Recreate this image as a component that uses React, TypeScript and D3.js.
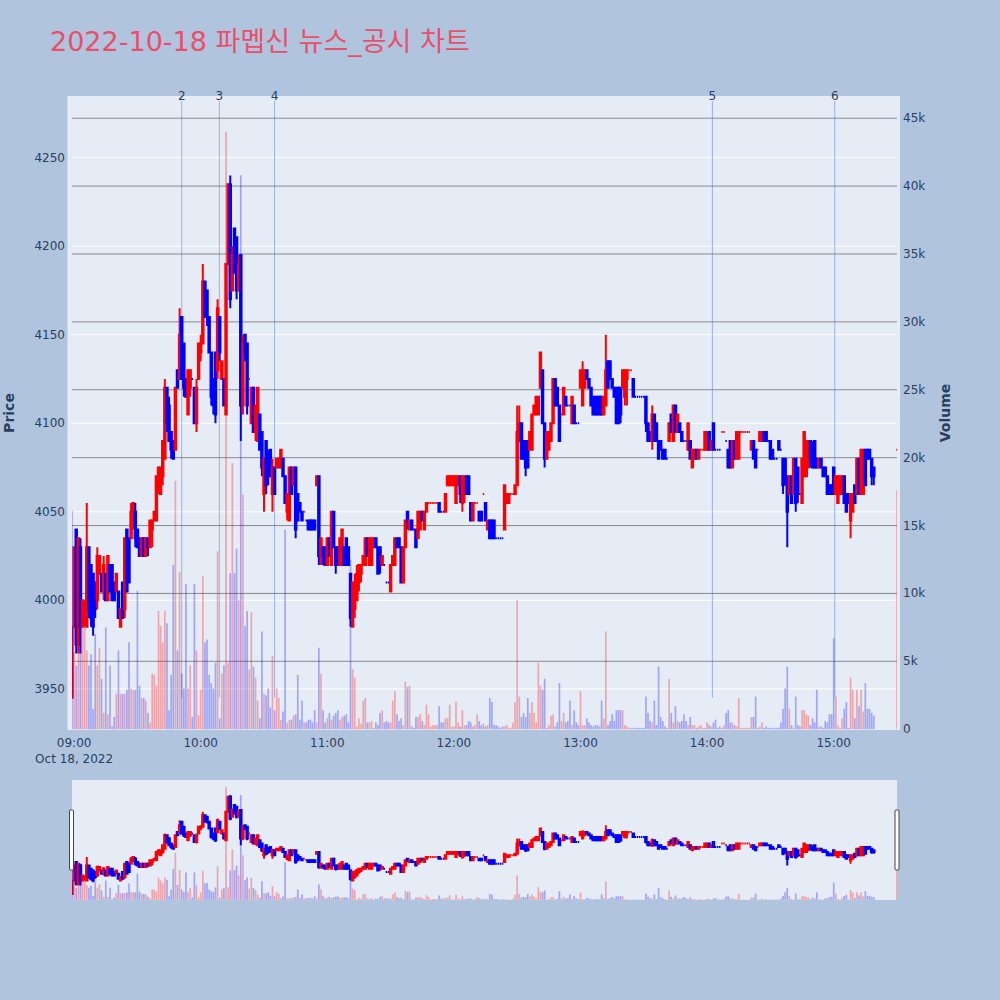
import React from "react";
import * as d3 from "d3";

// ---------------- DATA ----------------
// minute offsets from 08:59 (08:59 .. 15:19 continuous, then 15:30 closing auction)
const minuteOffsets = [...d3.range(0, 381), 391];

const opens = [
  3945,
  3985,4040,3975,4030,3985,3990,3985,4030,4020,4015,
  4010,4000,4015,4015,4005,4015,4000,4020,4020,4010,
  4005,4005,3985,4010,3995,4040,4035,4035,4045,4050,
  4040,4035,4025,4035,4025,4035,4030,4040,4045,4045,
  4065,4060,4070,4080,4120,4110,4095,4090,4085,4130,
  4125,4160,4145,4125,4105,4120,4125,4120,4100,4125,
  4140,4145,4180,4175,4160,4140,4125,4140,4130,4160,
  4125,4125,4105,4190,4235,4175,4210,4205,4175,4195,
  4110,4150,4145,4125,4100,4120,4095,4090,4105,4095,
  4060,4090,4080,4085,4060,4075,4075,4075,4075,4080,
  4070,4050,4045,4075,4065,4075,4060,4055,4050,4050,
  4045,4045,4045,4045,4045,4065,4070,4025,4030,4030,
  4020,4035,4020,4050,4030,4030,4020,4020,4030,4035,
  4030,4015,3985,3995,4000,4010,4015,4020,4020,4035,
  4020,4020,4030,4035,4030,4030,4020,4020,4010,4010,
  4005,4020,4020,4035,4035,4030,4010,4030,4050,4040,
  4045,4040,4040,4035,4040,4050,4040,4050,4055,4055,
  4055,4055,4055,4055,4050,4050,4050,4065,4065,4065,
  4065,4055,4065,4070,4055,4060,4070,4070,4055,4045,
  4055,4055,4050,4050,4060,4055,4040,4045,4045,4045,
  4035,4035,4035,4035,4040,4055,4055,4060,4060,4060,
  4065,4090,4100,4090,4090,4090,4085,4085,4105,4105,
  4105,4120,4130,4100,4080,4085,4090,4100,4125,4120,
  4110,4105,4105,4115,4110,4110,4100,4110,4100,4100,
  4120,4110,4120,4130,4125,4120,4115,4115,4115,4115,
  4115,4105,4110,4135,4135,4125,4120,4120,4120,4120,
  4120,4115,4125,4130,4130,4125,4115,4115,4115,4115,
  4115,4115,4100,4095,4090,4105,4100,4090,4090,4085,
  4085,4080,4090,4105,4090,4110,4095,4100,4095,4090,
  4090,4085,4090,4075,4080,4085,4080,4085,4085,4085,
  4085,4095,4085,4100,4085,4085,4085,4095,4095,4090,
  4085,4090,4075,4090,4080,4080,4095,4095,4095,4095,
  4095,4085,4090,4085,4085,4090,4090,4095,4095,4090,
  4090,4085,4080,4080,4090,4085,4080,4080,4070,4060,
  4070,4060,4080,4075,4060,4055,4070,4070,4075,4090,
  4085,4090,4080,4075,4080,4075,4075,4070,4065,4065,
  4075,4060,4055,4060,4060,4070,4060,4060,4045,4050,
  4065,4060,4080,4060,4060,4085,4085,4085,4080,4075,
  4085,
];

const highs = [
  3985,
  4030,4040,4035,4035,4000,4000,4055,4030,4020,4015,
  4010,4030,4025,4015,4025,4015,4025,4020,4020,4010,
  4015,4005,3995,4010,4035,4040,4035,4055,4055,4055,
  4040,4035,4035,4035,4035,4035,4045,4045,4050,4070,
  4075,4075,4090,4125,4120,4115,4095,4090,4120,4130,
  4165,4160,4145,4125,4130,4130,4125,4120,4125,4145,
  4150,4190,4180,4175,4160,4140,4125,4140,4170,4160,
  4135,4125,4190,4235,4240,4200,4210,4205,4195,4195,
  4150,4150,4145,4125,4120,4120,4110,4120,4105,4095,
  4080,4090,4085,4085,4080,4075,4080,4080,4085,4080,
  4070,4060,4075,4075,4075,4075,4060,4055,4050,4050,
  4045,4045,4045,4045,4045,4070,4070,4035,4030,4030,
  4035,4035,4050,4050,4030,4030,4035,4040,4030,4035,
  4030,4015,4010,4015,4020,4020,4020,4025,4035,4035,
  4035,4035,4035,4035,4030,4030,4025,4020,4010,4010,
  4020,4025,4035,4035,4035,4030,4030,4045,4050,4045,
  4045,4040,4040,4050,4050,4050,4050,4055,4055,4055,
  4055,4055,4055,4055,4050,4050,4060,4070,4070,4070,
  4070,4070,4070,4070,4070,4070,4070,4070,4055,4055,
  4055,4055,4050,4050,4060,4055,4045,4045,4045,4045,
  4035,4035,4035,4035,4065,4060,4060,4060,4060,4065,
  4110,4110,4100,4090,4090,4090,4095,4105,4110,4115,
  4115,4140,4130,4100,4095,4095,4100,4125,4125,4120,
  4110,4105,4120,4115,4110,4110,4115,4110,4100,4100,
  4130,4135,4130,4130,4125,4120,4115,4115,4115,4115,
  4115,4115,4150,4135,4135,4125,4120,4120,4120,4120,
  4130,4130,4130,4130,4130,4125,4115,4115,4115,4115,
  4115,4115,4100,4095,4110,4105,4100,4090,4090,4085,
  4085,4080,4100,4105,4110,4110,4105,4100,4095,4090,
  4090,4100,4090,4085,4085,4085,4085,4085,4085,4095,
  4095,4095,4090,4100,4085,4085,4085,4095,4095,4090,
  4085,4090,4090,4090,4095,4095,4095,4095,4095,4095,
  4095,4090,4090,4085,4085,4095,4095,4095,4095,4090,
  4090,4085,4080,4080,4090,4085,4080,4080,4070,4070,
  4070,4080,4080,4075,4060,4080,4095,4090,4090,4090,
  4090,4090,4080,4080,4080,4075,4075,4070,4065,4065,
  4075,4070,4070,4070,4070,4070,4060,4060,4060,4060,
  4065,4080,4080,4085,4085,4085,4085,4085,4080,4075,
  4085,
];

const lows = [
  3945,
  3985,3970,3970,3970,3985,3985,3985,3990,3985,3980,
  3990,3995,4015,4005,4000,4000,4000,4005,4000,4000,
  4005,3990,3985,3990,3990,4005,4010,4035,4040,4030,
  4030,4025,4025,4025,4025,4025,4030,4030,4045,4045,
  4060,4060,4065,4080,4095,4090,4080,4080,4085,4120,
  4125,4125,4115,4115,4105,4115,4125,4100,4095,4125,
  4135,4145,4160,4155,4140,4110,4105,4100,4125,4135,
  4125,4110,4105,4190,4165,4175,4185,4170,4175,4090,
  4105,4135,4105,4125,4100,4095,4090,4090,4085,4070,
  4050,4060,4065,4070,4050,4060,4075,4075,4075,4070,
  4055,4045,4045,4060,4065,4035,4045,4050,4045,4050,
  4045,4040,4040,4040,4040,4065,4020,4020,4020,4020,
  4020,4025,4020,4030,4015,4020,4020,4020,4020,4020,
  4020,3985,3985,3990,4000,4005,4010,4020,4020,4025,
  4020,4020,4030,4030,4015,4015,4020,4020,4010,4010,
  4005,4020,4020,4030,4030,4010,4010,4030,4040,4040,
  4040,4040,4030,4035,4040,4045,4040,4050,4055,4055,
  4055,4055,4055,4050,4050,4050,4050,4065,4065,4065,
  4065,4055,4065,4055,4050,4055,4060,4060,4045,4045,
  4055,4055,4045,4045,4060,4045,4040,4035,4035,4035,
  4035,4035,4035,4035,4040,4055,4055,4060,4060,4060,
  4065,4090,4080,4080,4070,4075,4085,4085,4105,4105,
  4105,4120,4100,4075,4080,4085,4090,4100,4110,4110,
  4090,4105,4105,4110,4110,4110,4100,4100,4100,4100,
  4120,4110,4120,4125,4120,4110,4105,4105,4105,4105,
  4105,4105,4110,4120,4125,4120,4115,4100,4100,4100,
  4120,4110,4110,4130,4130,4115,4115,4115,4115,4115,
  4115,4095,4090,4090,4085,4090,4090,4080,4085,4080,
  4080,4080,4090,4095,4090,4095,4095,4095,4090,4090,
  4090,4085,4080,4075,4080,4080,4080,4085,4085,4085,
  4085,4085,4085,4085,4085,4085,4085,4095,4095,4090,
  4075,4075,4075,4080,4080,4080,4095,4095,4095,4095,
  4095,4085,4080,4075,4085,4090,4090,4090,4090,4090,
  4080,4080,4080,4080,4085,4085,4060,4065,4030,4060,
  4055,4060,4050,4055,4060,4055,4070,4070,4075,4075,
  4075,4075,4075,4075,4075,4070,4070,4060,4060,4060,
  4060,4060,4055,4060,4060,4055,4050,4055,4035,4050,
  4055,4060,4060,4060,4060,4065,4080,4080,4065,4065,
  4085,
];

const closes = [
  3985,
  4030,3975,4035,3985,4000,3995,4030,3995,3990,3985,
  3995,4025,4025,4005,4020,4000,4025,4005,4000,4000,
  4015,3990,3995,3990,4035,4005,4010,4050,4055,4035,
  4030,4025,4035,4025,4035,4030,4045,4045,4050,4070,
  4075,4075,4090,4120,4100,4090,4085,4080,4120,4120,
  4150,4125,4120,4115,4130,4130,4125,4100,4120,4145,
  4145,4180,4160,4160,4140,4115,4110,4105,4165,4140,
  4135,4110,4190,4235,4170,4195,4185,4175,4190,4110,
  4145,4140,4110,4125,4120,4095,4110,4120,4085,4075,
  4080,4065,4070,4070,4075,4060,4080,4080,4085,4070,
  4055,4060,4075,4060,4075,4040,4045,4050,4045,4050,
  4045,4040,4040,4040,4040,4070,4025,4035,4025,4020,
  4035,4025,4050,4030,4020,4020,4035,4040,4020,4020,
  4020,3990,4010,4010,4015,4020,4020,4025,4035,4025,
  4035,4035,4035,4030,4015,4020,4025,4020,4010,4010,
  4020,4025,4035,4030,4030,4010,4030,4045,4045,4045,
  4040,4040,4030,4050,4050,4045,4050,4055,4055,4055,
  4055,4055,4055,4050,4050,4050,4060,4070,4070,4070,
  4070,4070,4070,4060,4070,4070,4060,4060,4045,4055,
  4055,4055,4045,4045,4060,4045,4045,4035,4035,4035,
  4035,4035,4035,4035,4065,4060,4060,4060,4060,4065,
  4095,4100,4080,4080,4075,4075,4095,4105,4110,4115,
  4115,4140,4100,4080,4095,4095,4100,4125,4110,4110,
  4090,4105,4120,4110,4110,4110,4115,4100,4100,4100,
  4130,4125,4130,4125,4120,4110,4105,4105,4105,4105,
  4105,4115,4130,4120,4125,4120,4115,4100,4100,4105,
  4130,4130,4130,4130,4130,4115,4115,4115,4115,4115,
  4115,4100,4090,4090,4105,4090,4090,4080,4085,4080,
  4080,4080,4100,4095,4110,4095,4105,4095,4090,4090,
  4090,4100,4080,4085,4085,4080,4085,4085,4085,4095,
  4095,4085,4090,4085,4085,4085,4085,4095,4095,4090,
  4075,4075,4090,4080,4095,4095,4095,4095,4095,4095,
  4095,4090,4080,4075,4085,4095,4095,4090,4090,4090,
  4080,4080,4080,4080,4085,4085,4065,4070,4050,4070,
  4055,4080,4055,4060,4060,4080,4095,4090,4090,4080,
  4075,4075,4075,4080,4075,4070,4070,4060,4060,4060,
  4060,4070,4070,4070,4070,4055,4050,4055,4060,4060,
  4055,4080,4060,4085,4085,4065,4080,4080,4070,4070,
  4085,
];

const volumes = [
  16100,
  5700,4700,6100,9500,9500,7500,5800,4700,5500,1500,
  7000,4700,6000,3700,1200,7500,1100,4700,200,900,
  2600,5800,2600,2600,2600,2900,6400,3000,2900,2900,
  10200,3200,2300,2300,2100,1200,500,4100,4000,3200,
  8700,7600,6400,8700,7800,1400,4000,12100,18300,5800,
  11600,4100,3000,10700,3000,4700,900,10700,5800,1000,
  2900,11300,6400,6600,4000,3400,3000,4900,13100,800,
  4100,4700,44000,4900,11500,19600,11500,13300,9500,40800,
  17300,7600,8700,4400,8600,4600,3800,2100,800,7200,
  2600,2500,3000,1600,5400,1400,3000,2300,700,1300,
  14700,500,700,700,1000,1100,4000,700,2100,500,
  500,700,700,500,1400,500,6000,4100,1400,500,
  800,1200,700,1000,1200,1400,700,900,1000,1100,
  500,12500,4400,3800,200,800,400,2100,2300,500,
  500,600,100,500,300,1200,1400,500,600,500,
  500,2100,2800,1100,600,800,300,3500,3100,3200,
  200,100,900,900,1100,600,300,1800,1100,200,
  300,300,300,1700,500,500,800,800,1800,200,
  200,2000,500,200,1400,300,300,600,500,200,
  300,1100,600,300,400,200,300,2300,2000,300,
  300,200,100,200,200,300,100,100,500,2000,
  9500,2400,900,1200,900,2300,1200,2000,1200,500,
  4900,3200,2900,3700,100,300,1000,1100,200,500,
  3400,600,1200,500,600,2100,300,1400,500,300,
  2800,300,300,800,500,300,200,300,300,200,
  2100,800,7200,300,600,1100,600,1400,1400,1400,
  1400,300,200,100,100,100,100,100,100,100,
  100,2400,1200,600,500,2100,300,4600,900,600,
  200,100,3700,1200,500,1700,600,500,600,1100,
  600,300,900,300,300,100,200,300,100,100,
  500,300,200,500,700,100,200,100,300,1200,
  1400,500,500,300,200,2300,100,100,100,100,
  100,900,900,2400,100,200,500,100,200,100,
  100,100,100,100,100,500,1500,3000,4600,1500,
  300,100,2400,300,200,1400,1400,1100,1000,300,
  800,500,2900,200,200,100,600,500,1100,1100,
  6700,2400,300,100,800,1500,2000,100,3800,2900,
  800,2900,1700,2900,1300,3400,1500,1500,1200,1000,
  17600,
];

const priceTicks = [3950, 4000, 4050, 4100, 4150, 4200, 4250];
const volumeTicks = [0, 5000, 10000, 15000, 20000, 25000, 30000, 35000, 40000, 45000];
const volumeTickLabels = ["0", "5k", "10k", "15k", "20k", "25k", "30k", "35k", "40k", "45k"];
const hourTicks = ["09:00", "10:00", "11:00", "12:00", "13:00", "14:00", "15:00"];
const eventLabels = ["2", "3", "4", "5", "6"];
const eventTimes = ["09:51:00", "10:08:50", "10:35:00", "14:02:30", "15:00:30"];

const TITLE = "2022-10-18 파멥신 뉴스_공시 차트";

// ---------------- STYLE ----------------
const UP = "#FF0000";
const DOWN = "#0000FF";
const FONT = "'DejaVu Sans', Verdana, sans-serif";
const AXIS_COLOR = "#2a3f5f";

function parseTime(s: string) {
  const [h, m, sec] = s.split(":").map(Number);
  return new Date(2022, 9, 18, h, m, sec || 0);
}

export default function App() {
  const base = new Date(2022, 9, 18, 8, 59, 0);
  const times = minuteOffsets.map((m) => new Date(base.getTime() + m * 60000));

  const x = d3.scaleTime().domain([times[0], times[times.length - 1]]).range([72, 897]);
  const yP = d3.scaleLinear().domain([3950, 4250]).range([688.8, 157.7]);
  const yV = d3.scaleLinear().domain([0, 45000]).range([729.2, 118.2]);
  const step = x(new Date(base.getTime() + 60000)) - x(base);

  // slider scales (same ranges, compressed)
  const sP = d3.scaleLinear().domain([yP.invert(730), yP.invert(96)]).range([900, 780]);
  const sV = d3.scaleLinear().domain([yV.invert(730), yV.invert(96)]).range([900, 780]);

  // plotly-like direction logic
  const inc: boolean[] = [];
  let prevC: number | null = null;
  let up = true;
  closes.forEach((c, i) => {
    const o = opens[i];
    if (c === o) {
      if (prevC !== null && c !== prevC) up = c > prevC;
    } else up = c > o;
    inc.push(up);
    prevC = c;
  });
  const volUp = inc.map((u, i) => (i === 0 ? false : u));

  const hw = step * 0.35;
  const candlePath = (i: number, ys: (v: number) => number) => {
    const cx = x(times[i]);
    const yo = ys(opens[i]);
    const yc = ys(closes[i]);
    const yh = ys(highs[i]);
    const yl = ys(lows[i]);
    const top = Math.min(yo, yc);
    const bot = Math.max(yo, yc);
    return `M${cx - hw},${top}H${cx + hw}V${bot}H${cx - hw}Z M${cx},${yh}V${top} M${cx},${bot}V${yl}`;
  };

  const bw = step * 0.8;
  const minLow = d3.min(lows) as number;

  const renderCandles = (ys: (v: number) => number) =>
    times.map((t, i) => (
      <path
        key={"c" + i}
        d={candlePath(i, ys)}
        fill={inc[i] ? UP : DOWN}
        stroke={inc[i] ? UP : DOWN}
        strokeWidth={2}
      />
    ));

  const renderVolumes = (ys: (v: number) => number) =>
    times.map((t, i) => (
      <rect
        key={"v" + i}
        x={x(t) - bw / 2}
        y={ys(volumes[i])}
        width={bw}
        height={Math.max(0, ys(0) - ys(volumes[i]))}
        fill={volUp[i] ? UP : DOWN}
        fillOpacity={0.3}
      />
    ));

  return (
    <svg
      width={1000}
      height={1000}
      style={{ position: "absolute", left: 0, top: 0, display: "block" }}
      fontFamily={FONT}
    >
      <defs>
        <clipPath id="mainClip">
          <rect x={72} y={96} width={825} height={634} />
        </clipPath>
        <clipPath id="sliderClip">
          <rect x={72} y={780} width={825} height={120} />
        </clipPath>
      </defs>
      <rect x={0} y={0} width={1000} height={1000} fill="#B0C4DE" />

      {/* title */}
      <text x={50} y={50.5} fontSize={27} fill="#EA4F6A" fontFamily="'DejaVu Sans', 'Noto Sans CJK KR', sans-serif">
        {TITLE}
      </text>

      {/* plot background */}
      <rect x={67.5} y={96} width={832.5} height={634} fill="#E5ECF6" />

      {/* price gridlines */}
      {priceTicks.map((p) => (
        <line key={"pg" + p} x1={72} x2={897} y1={yP(p)} y2={yP(p)} stroke="#ffffff" strokeWidth={1} />
      ))}
      {/* volume gridlines */}
      {volumeTicks.slice(1).map((v) => (
        <line key={"vg" + v} x1={72} x2={897} y1={yV(v)} y2={yV(v)} stroke="#8a8a8a" strokeWidth={1} />
      ))}

      {/* event lines */}
      {eventTimes.map((s, i) => {
        const ex = x(parseTime(s));
        return (
          <g key={"ev" + i}>
            <line x1={ex} x2={ex} y1={101} y2={yP(minLow)} stroke="royalblue" strokeOpacity={0.45} strokeWidth={1} />
            <text x={ex} y={100} fontSize={12} textAnchor="middle" fill={AXIS_COLOR}>
              {eventLabels[i]}
            </text>
          </g>
        );
      })}

      <g clipPath="url(#mainClip)">
        {renderCandles(yP)}
        {renderVolumes(yV)}
      </g>

      {/* left axis labels */}
      {priceTicks.map((p) => (
        <text key={"pl" + p} x={65} y={yP(p)} fontSize={12} fill={AXIS_COLOR} textAnchor="end" dominantBaseline="central">
          {p}
        </text>
      ))}
      {/* right axis labels */}
      {volumeTicks.map((v, i) => (
        <text key={"vl" + v} x={903} y={yV(v)} fontSize={12} fill={AXIS_COLOR} textAnchor="start" dominantBaseline="central">
          {volumeTickLabels[i]}
        </text>
      ))}
      {/* x axis labels */}
      {hourTicks.map((h) => (
        <text key={"xl" + h} x={x(parseTime(h))} y={746.5} fontSize={12} fill={AXIS_COLOR} textAnchor="middle">
          {h}
        </text>
      ))}
      <text x={x(parseTime("09:00"))} y={762.5} fontSize={12} fill={AXIS_COLOR} textAnchor="middle">
        Oct 18, 2022
      </text>

      {/* axis titles */}
      <text
        transform="translate(9,413) rotate(-90)"
        fontSize={14}
        fontWeight="bold"
        fill={AXIS_COLOR}
        textAnchor="middle"
        dominantBaseline="central"
      >
        Price
      </text>
      <text
        transform="translate(945,413) rotate(-90)"
        fontSize={14}
        fontWeight="bold"
        fill={AXIS_COLOR}
        textAnchor="middle"
        dominantBaseline="central"
      >
        Volume
      </text>

      {/* range slider */}
      <rect x={72} y={780} width={825} height={120} fill="#E5ECF6" />
      <g clipPath="url(#sliderClip)">
        {renderCandles(sP)}
        {renderVolumes(sV)}
      </g>
      <rect x={69.5} y={810} width={4} height={60} fill="#ffffff" stroke="#444" strokeWidth={1} rx={1} />
      <rect x={895} y={810} width={4} height={60} fill="#ffffff" stroke="#444" strokeWidth={1} rx={1} />
    </svg>
  );
}
